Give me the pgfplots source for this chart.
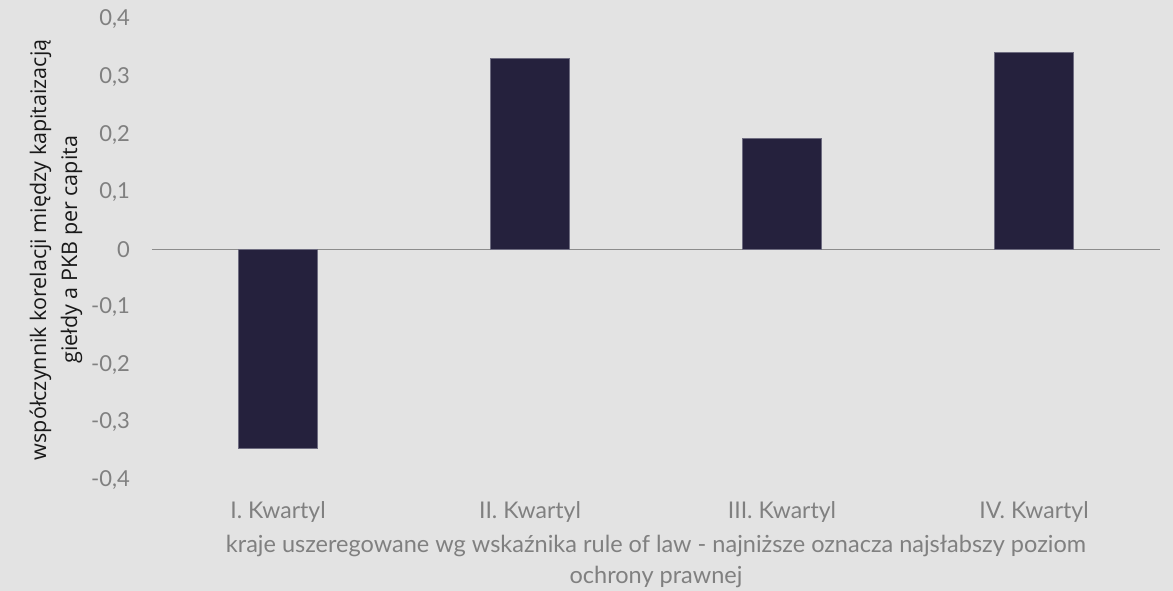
\documentclass[border=0pt]{standalone}
\usepackage{pgfplots}
\pgfplotsset{compat=1.18}
\usepackage{fontspec}
\setmainfont{Lato}
\newfontfamily\osans{Open Sans}
\definecolor{bgc}{HTML}{E3E3E3}
\definecolor{barc}{HTML}{25213D}
\definecolor{baredge}{HTML}{6E6C80}
\definecolor{tickc}{HTML}{808080}
\definecolor{zeroc}{HTML}{8C8C8C}
\begin{document}
\begin{tikzpicture}
\fill[bgc] (-152pt,-111pt) rectangle (1021pt,480pt);
\begin{axis}[
  at={(0pt,0pt)}, anchor=south west,
  scale only axis, width=1008pt, height=460.5pt,
  xmin=-0.5, xmax=3.5, ymin=-0.4, ymax=0.4,
  axis line style={draw=none},
  major tick length=0pt,
  xtick={0,1,2,3},
  xticklabels={I. Kwartyl, II. Kwartyl, III. Kwartyl, IV. Kwartyl},
  ytick={-0.4,-0.3,-0.2,-0.1,0,0.1,0.2,0.3,0.4},
  /pgf/number format/assume math mode=true,
  /pgf/number format/use comma,
  /pgf/number format/fixed,
  /pgf/number format/precision=1,
  yticklabel style={font=\fontsize{22}{26}\selectfont, text=tickc, inner sep=0pt, anchor=east, xshift=-22pt},
  xticklabel style={font=\fontsize{23}{27}\selectfont, text=tickc, inner sep=0pt, anchor=base, yshift=-38.3pt},
  extra y ticks={0},
  extra y tick labels={},
  extra y tick style={grid=major, major grid style={zeroc, line width=1.5pt}},
  xlabel={kraje uszeregowane wg wskaźnika rule of law - najniższe oznacza najsłabszy poziom\\ochrony prawnej},
  xlabel style={at={(axis description cs:0.5,0)}, anchor=north, yshift=-55pt, align=center, text=tickc, inner sep=0pt, font=\fontsize{23.5}{31}\selectfont},
  ylabel={współczynnik korelacji między kapitaizacją\\giełdy a PKB per capita},
  ylabel style={at={(axis description cs:-0.0952,0.5)}, anchor=center, rotate=0, align=center, text=black!90, inner sep=0pt, font=\osans\fontsize{21.5}{31}\selectfont},
  ybar, bar width=0.313,
]
\addplot[fill=barc, draw=baredge, line width=0.6pt] coordinates {(0,-0.345) (1,0.333) (2,0.193) (3,0.3425)};
\end{axis}
\pgfresetboundingbox
\path (-152pt,-111pt) rectangle (1021pt,480pt);
\end{tikzpicture}
\end{document}
